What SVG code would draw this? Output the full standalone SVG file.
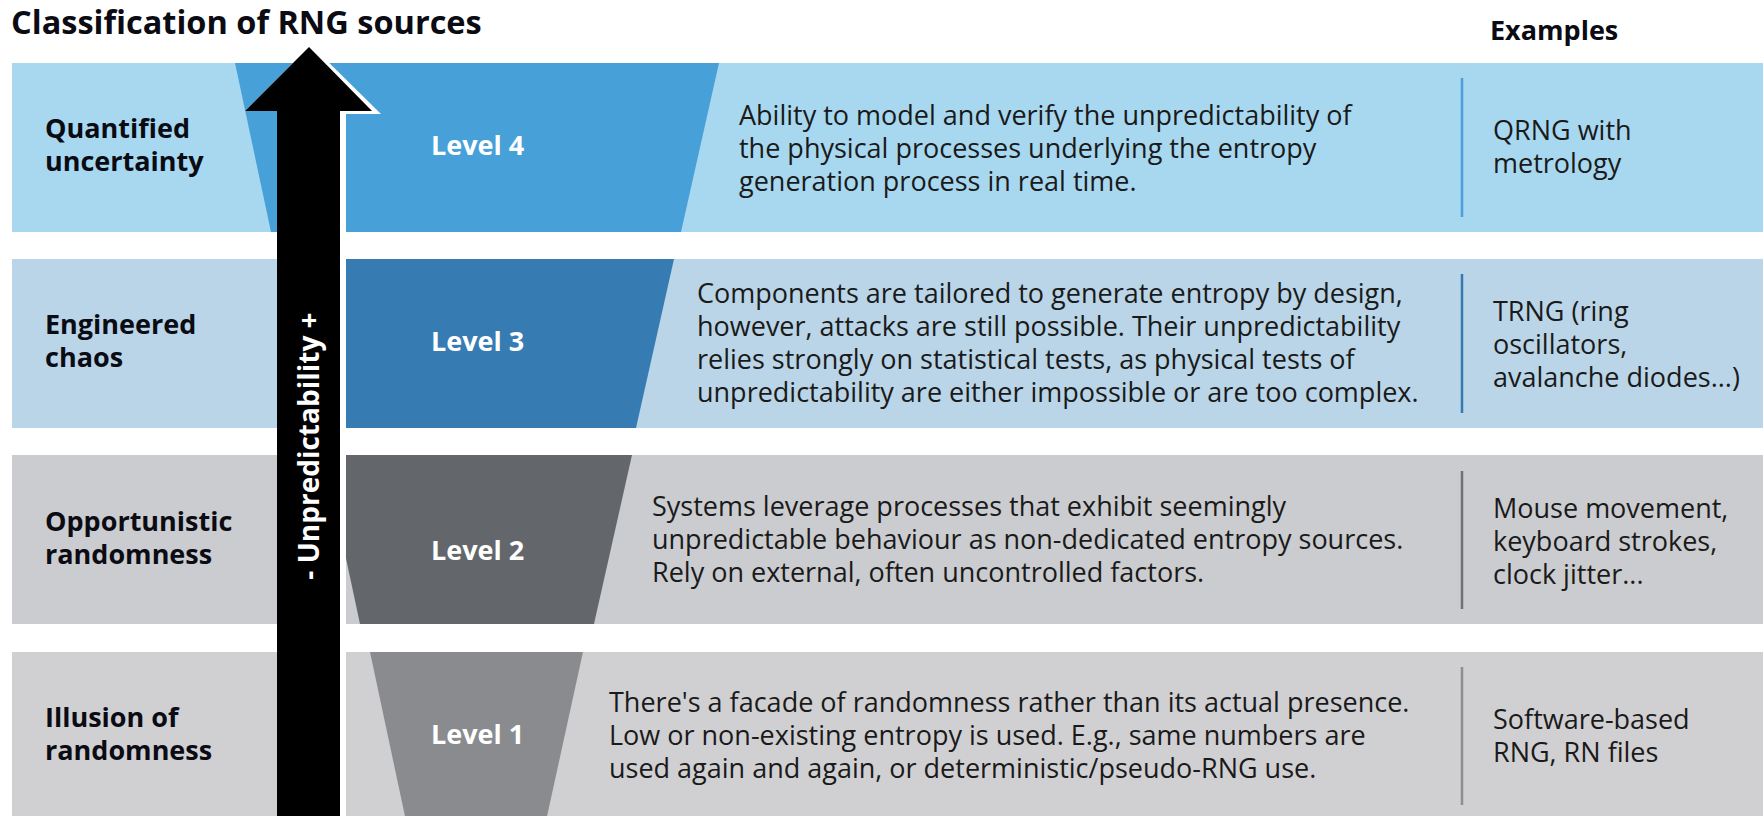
<svg xmlns="http://www.w3.org/2000/svg" width="1763" height="816" viewBox="0 0 1763 816">
<style>
text{font-family:"Open Sans","Liberation Sans",sans-serif;}
.title{font-size:32.5px;font-weight:700;fill:#0b0b14;}
.hdr{font-size:27px;font-weight:700;fill:#0b0b14;}
.lab{font-size:27px;font-weight:700;fill:#0b0b14;}
.lvl{font-size:27px;font-weight:700;fill:#ffffff;}
.desc{font-size:27px;font-weight:400;fill:#1a1a1a;}
.ex{font-size:27px;font-weight:400;fill:#1a1a1a;}
.axis{font-size:28px;font-weight:700;fill:#ffffff;}
.sep{stroke-width:2.5;}
</style>
<rect width="1763" height="816" fill="#ffffff"/>
<text class="title" x="11" y="34">Classification of RNG sources</text>
<text class="hdr" x="1490" y="40">Examples</text>

<g id="row-4">
<rect x="12" y="63" width="1751" height="169" fill="#a7d8f0"/>
<polygon points="235,63 719,63 681,232 271,232" fill="#48a0d9"/>
<text class="lab" x="45" y="138">Quantified</text>
<text class="lab" x="45" y="171">uncertainty</text>
<text class="lvl" x="431" y="155">Level 4</text>
<text class="desc" x="739" y="125">Ability to model and verify the unpredictability of</text>
<text class="desc" x="739" y="158">the physical processes underlying the entropy</text>
<text class="desc" x="739" y="191">generation process in real time.</text>
<line class="sep" x1="1462" y1="78" x2="1462" y2="217" stroke="#4a9fd8"/>
<text class="ex" x="1493" y="140">QRNG with</text>
<text class="ex" x="1493" y="173">metrology</text>
</g>

<g id="row-3">
<rect x="12" y="259" width="1751" height="169" fill="#b9d5e7"/>
<polygon points="290,259 674,259 636,428 326,428" fill="#377bb3"/>
<text class="lab" x="45" y="334">Engineered</text>
<text class="lab" x="45" y="367">chaos</text>
<text class="lvl" x="431" y="351">Level 3</text>
<text class="desc" x="697" y="303">Components are tailored to generate entropy by design,</text>
<text class="desc" x="697" y="336">however, attacks are still possible. Their unpredictability</text>
<text class="desc" x="697" y="369">relies strongly on statistical tests, as physical tests of</text>
<text class="desc" x="697" y="402">unpredictability are either impossible or are too complex.</text>
<line class="sep" x1="1462" y1="274" x2="1462" y2="413" stroke="#3579b0"/>
<text class="ex" x="1493" y="321">TRNG (ring</text>
<text class="ex" x="1493" y="354">oscillators,</text>
<text class="ex" x="1493" y="387">avalanche diodes...)</text>
</g>

<g id="row-2">
<rect x="12" y="455" width="1751" height="169" fill="#cbcccf"/>
<polygon points="324,455 632,455 594,624 360,624" fill="#63666a"/>
<text class="lab" x="45" y="531">Opportunistic</text>
<text class="lab" x="45" y="564">randomness</text>
<text class="lvl" x="431" y="560">Level 2</text>
<text class="desc" x="652" y="516">Systems leverage processes that exhibit seemingly</text>
<text class="desc" x="652" y="549">unpredictable behaviour as non-dedicated entropy sources.</text>
<text class="desc" x="652" y="582">Rely on external, often uncontrolled factors.</text>
<line class="sep" x1="1462" y1="471" x2="1462" y2="609" stroke="#6e7176"/>
<text class="ex" x="1493" y="518">Mouse movement,</text>
<text class="ex" x="1493" y="551">keyboard strokes,</text>
<text class="ex" x="1493" y="584">clock jitter...</text>
</g>

<g id="row-1">
<rect x="12" y="652" width="1751" height="169" fill="#d0d0d3"/>
<polygon points="370,652 583,652 546,821 406,821" fill="#898b8e"/>
<text class="lab" x="45" y="727">Illusion of</text>
<text class="lab" x="45" y="760">randomness</text>
<text class="lvl" x="431" y="744">Level 1</text>
<text class="desc" x="609" y="712">There's a facade of randomness rather than its actual presence.</text>
<text class="desc" x="609" y="745">Low or non-existing entropy is used. E.g., same numbers are</text>
<text class="desc" x="609" y="778">used again and again, or deterministic/pseudo-RNG use.</text>
<line class="sep" x1="1462" y1="667" x2="1462" y2="805" stroke="#8c8e91"/>
<text class="ex" x="1493" y="729">Software-based</text>
<text class="ex" x="1493" y="762">RNG, RN files</text>
</g>

<g id="connectors">
<polygon points="311,45 381,114 346,114 346,816 277,816 277,111 245,111" fill="#ffffff"/>
<polygon points="309,47 372,111 340,111 340,816 277,816 277,111 245,111" fill="#000000"/>
<text class="axis" transform="translate(309,446) rotate(-90)" x="0" y="10" text-anchor="middle">- Unpredictability +</text>
</g>
</svg>
